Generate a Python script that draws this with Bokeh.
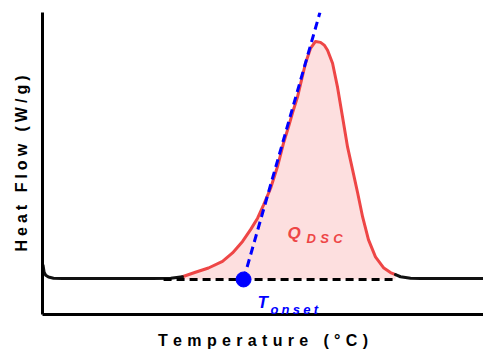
from bokeh.plotting import figure
from bokeh.models import Range1d, FixedTicker, Label
from bokeh.embed import file_html
from bokeh.resources import INLINE

# ---- data ----
left_temp = [20.3, 20.8, 21.6, 23.0, 25.5, 30.0, 50.0, 75.0, 84.0, 89.8]
left_flow = [1.62, 1.40, 1.30, 1.24, 1.20, 1.19, 1.19, 1.19, 1.20, 1.25]

peak_temp = [89.8, 96.3, 102.8, 109.8, 114.8, 119.8, 123.8, 127.3, 130.3, 133.8,
             137.2, 140.2, 142.7, 144.7, 147.2, 149.2, 151.2,
             153.7, 156.2, 158.7, 160.7, 162.2, 164.7, 167.2, 169.7, 172.2, 174.7,
             177.2, 179.7, 182.6, 186.1, 190.1, 193.6, 196.1]
peak_flow = [1.25, 1.40, 1.54, 1.76, 2.04, 2.42, 2.81, 3.19, 3.63, 4.18,
             4.89, 5.67, 6.21, 6.67, 7.20, 7.76, 8.32,
             8.81, 9.04, 9.01, 8.91, 8.75, 8.32, 7.52, 6.53, 5.54, 4.79,
             4.03, 3.23, 2.48, 1.91, 1.55, 1.39, 1.32]

right_temp = [196.1, 198.6, 203.6, 208.6, 240.0]
right_flow = [1.32, 1.25, 1.20, 1.19, 1.19]

baseline_temp = [80.4, 197.1]
baseline_flow = 1.16

tangent_temp = [120.3, 158.4]
tangent_flow = [1.16, 10.0]

onset_temp = [120.3]
onset_flow = [1.16]

x_label = "Temperature (°C)"
y_label = "Heat Flow (W/g)"

RED = "#ee4646"
PINK = "#fddfdf"
BLUE = "#0000ff"
FONT = "Liberation Sans"


def spaced(s, sp):
    return sp.join(list(s))


p = figure(width=483, height=351, x_range=Range1d(20, 240), y_range=Range1d(0, 10),
           output_backend="svg", toolbar_location=None,
           min_border_left=42, min_border_right=0, min_border_top=12, min_border_bottom=36)
p.outline_line_color = None
p.grid.visible = False
p.background_fill_color = "white"
p.border_fill_color = "white"

for ax in (p.xaxis, p.yaxis):
    ax.ticker = FixedTicker(ticks=[])
    ax.major_tick_out = 0
    ax.major_tick_in = 0
    ax.minor_tick_out = 0
    ax.minor_tick_in = 0
    ax.major_label_standoff = 0
    ax.major_label_text_font_size = "0px"
    ax.axis_line_width = 3
    ax.axis_line_color = "black"
    ax.axis_label_text_font = FONT
    ax.axis_label_text_font_style = "bold"
    ax.axis_label_text_font_size = "16px"
    ax.axis_label_text_color = "black"

p.xaxis.axis_label = spaced(x_label, "\u2004")
p.yaxis.axis_label = spaced(y_label, "\u2005")
p.xaxis.axis_label_standoff = 17
p.yaxis.axis_label_standoff = 13

# filled peak area
p.varea(x=peak_temp, y1=[baseline_flow] * len(peak_temp), y2=peak_flow,
        fill_color=PINK, fill_alpha=1.0)

# curves
p.line(peak_temp, peak_flow, line_color=RED, line_width=3, line_cap="round", line_join="round")
p.line(left_temp, left_flow, line_color="#111111", line_width=3, line_cap="round", line_join="round")
p.line(right_temp, right_flow, line_color="#111111", line_width=3, line_cap="round", line_join="round")

# baseline (dashed)
p.line(baseline_temp, [baseline_flow, baseline_flow], line_color="black", line_width=3,
       line_dash="8 5")

# tangent (dashed blue)
p.line(tangent_temp, tangent_flow, line_color=BLUE, line_width=3, line_dash="8 5")

# onset point
p.scatter(onset_temp, onset_flow, size=15, fill_color=BLUE, line_color=BLUE)

# annotations
p.add_layout(Label(x=142.2, y=2.67, text="Q", text_font=FONT, text_font_size="17px",
                   text_font_style="bold italic", text_color=RED, text_baseline="alphabetic"))
p.add_layout(Label(x=151.7, y=2.52, text=spaced("DSC", "\u2004"), text_font=FONT,
                   text_font_size="13px", text_font_style="bold italic", text_color=RED,
                   text_baseline="alphabetic"))
p.add_layout(Label(x=127.3, y=0.40, text="T", text_font=FONT, text_font_size="17px",
                   text_font_style="bold italic", text_color=BLUE, text_baseline="alphabetic"))
p.add_layout(Label(x=133.7, y=0.165, text=spaced("onset", "\u2005"), text_font=FONT,
                   text_font_size="13px", text_font_style="bold italic", text_color=BLUE,
                   text_baseline="alphabetic"))

open("out.html", "w").write(file_html(p, INLINE))
